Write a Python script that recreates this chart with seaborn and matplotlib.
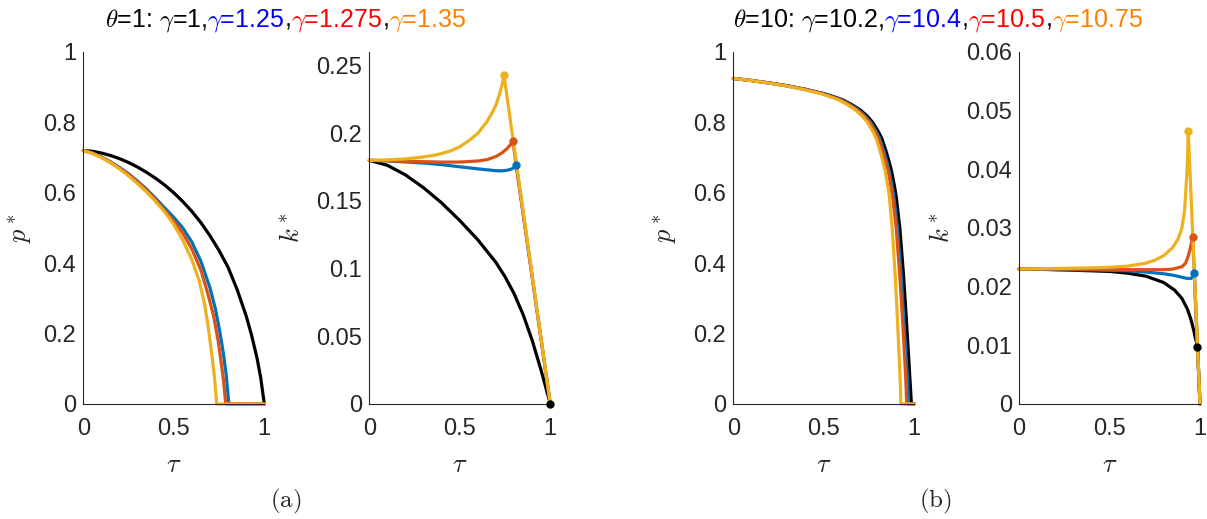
import matplotlib
matplotlib.use('Agg')
import matplotlib.pyplot as plt
import seaborn as sns
from matplotlib.ticker import FuncFormatter

# ---------------- data ----------------
# (a) theta = 1 : p*
tau_a_p_g1 = [0, 0.05, 0.1, 0.15, 0.2, 0.25, 0.3, 0.35, 0.4, 0.45, 0.5, 0.55, 0.6, 0.65, 0.7, 0.75,
              0.8, 0.85, 0.9, 0.93, 0.96, 0.98, 1.0]
p_a_g1 = [0.720, 0.718, 0.713, 0.706, 0.697, 0.686, 0.673, 0.658, 0.641, 0.622, 0.600, 0.575, 0.547,
          0.515, 0.478, 0.436, 0.388, 0.325, 0.250, 0.195, 0.130, 0.075, 0.0]
tau_a_p_g2 = [0, 0.05, 0.1, 0.15, 0.2, 0.25, 0.3, 0.35, 0.4, 0.45, 0.5, 0.55, 0.6, 0.65, 0.7, 0.73,
              0.756, 0.775, 0.79, 0.804, 1.0]
p_a_g2 = [0.720, 0.713, 0.702, 0.688, 0.672, 0.654, 0.633, 0.610, 0.584, 0.557, 0.530, 0.500, 0.460,
          0.405, 0.330, 0.270, 0.200, 0.140, 0.080, 0.0, 0.0]
tau_a_p_g3 = [0, 0.05, 0.1, 0.15, 0.2, 0.25, 0.3, 0.35, 0.4, 0.45, 0.5, 0.55, 0.6, 0.65, 0.69, 0.72,
              0.745, 0.76, 0.775, 0.787, 1.0]
p_a_g3 = [0.720, 0.713, 0.701, 0.687, 0.670, 0.652, 0.631, 0.607, 0.580, 0.550, 0.520, 0.485, 0.440,
          0.380, 0.310, 0.250, 0.180, 0.125, 0.065, 0.0, 0.0]
tau_a_p_g4 = [0, 0.05, 0.1, 0.15, 0.2, 0.25, 0.3, 0.35, 0.4, 0.45, 0.5, 0.55, 0.6, 0.64, 0.67, 0.69,
              0.71, 0.725, 0.737, 1.0]
p_a_g4 = [0.720, 0.712, 0.700, 0.685, 0.668, 0.648, 0.626, 0.602, 0.575, 0.545, 0.510, 0.465, 0.410,
          0.350, 0.285, 0.220, 0.140, 0.075, 0.0, 0.0]

# (a) theta = 1 : k*
tau_a_k_g1 = [0, 0.1, 0.2, 0.3, 0.4, 0.5, 0.6, 0.7, 0.75, 0.8, 0.85, 0.9, 0.95, 1.0]
k_a_g1 = [0.180, 0.1763, 0.1692, 0.1597, 0.1485, 0.1355, 0.1212, 0.1045, 0.094, 0.0815, 0.066, 0.047,
          0.0245, 0.0]
tau_a_k_g2 = [0, 0.1, 0.2, 0.3, 0.4, 0.5, 0.6, 0.65, 0.7, 0.73, 0.76, 0.785, 0.8, 0.812, 1.0]
k_a_g2 = [0.180, 0.1795, 0.1788, 0.178, 0.1768, 0.1752, 0.1737, 0.173, 0.1723, 0.1722, 0.1726, 0.1735,
          0.1745, 0.1762, 0.0]
tau_a_k_g3 = [0, 0.1, 0.2, 0.3, 0.4, 0.5, 0.6, 0.65, 0.7, 0.73, 0.76, 0.78, 0.793, 1.0]
k_a_g3 = [0.180, 0.1797, 0.1793, 0.179, 0.1787, 0.1787, 0.1795, 0.1805, 0.1828, 0.1852, 0.1885,
          0.1915, 0.194, 0.0]
tau_a_k_g4 = [0, 0.1, 0.2, 0.3, 0.356, 0.4, 0.45, 0.5, 0.55, 0.6, 0.65, 0.68, 0.7, 0.72, 0.735, 0.744, 1.0]
k_a_g4 = [0.180, 0.1803, 0.181, 0.1825, 0.1837, 0.185, 0.187, 0.190, 0.1945, 0.200, 0.2085, 0.2155,
          0.221, 0.229, 0.2365, 0.243, 0.0]
tau_a_end = [1.0, 0.812, 0.793, 0.744]
k_a_end = [0.0, 0.1762, 0.194, 0.243]

# (b) theta = 10 : p*
p_b = [0.925, 0.919, 0.912, 0.904, 0.894, 0.882, 0.874, 0.865, 0.852, 0.836, 0.818, 0.80, 0.775,
       0.755, 0.72, 0.69, 0.66, 0.62, 0.59, 0.50, 0.37, 0.25, 0.14, 0.07, 0.0, 0.0]
tau_b_p_g1 = [0, 0.1, 0.2, 0.3, 0.4, 0.5, 0.55, 0.6, 0.65, 0.7, 0.74, 0.77, 0.8, 0.82, 0.843, 0.86,
              0.875, 0.89, 0.9, 0.92, 0.94, 0.955, 0.968, 0.976, 0.984, 1.0]
tau_b_p_g2 = [0, 0.099, 0.197, 0.296, 0.394, 0.493, 0.542, 0.592, 0.641, 0.69, 0.729, 0.759, 0.789,
              0.808, 0.831, 0.848, 0.862, 0.877, 0.887, 0.907, 0.927, 0.941, 0.954, 0.962, 0.968, 1.0]
tau_b_p_g3 = [0, 0.098, 0.196, 0.293, 0.391, 0.489, 0.538, 0.587, 0.636, 0.685, 0.724, 0.753, 0.782,
              0.802, 0.824, 0.841, 0.856, 0.87, 0.88, 0.9, 0.919, 0.934, 0.946, 0.953, 0.958, 1.0]
tau_b_p_g4 = [0, 0.096, 0.192, 0.289, 0.385, 0.481, 0.529, 0.577, 0.625, 0.673, 0.712, 0.741, 0.77,
              0.789, 0.81, 0.826, 0.84, 0.853, 0.862, 0.878, 0.894, 0.906, 0.916, 0.922, 0.926, 1.0]

# (b) theta = 10 : k*
tau_b_k_g1 = [0, 0.1, 0.2, 0.3, 0.4, 0.5, 0.6, 0.7, 0.8, 0.86, 0.9, 0.93, 0.95, 0.965, 0.975, 0.982,
              0.986, 1.0]
k_b_g1 = [0.0230, 0.0230, 0.0229, 0.0228, 0.0227, 0.0226, 0.0223, 0.0218, 0.0207, 0.0194, 0.0180,
          0.0162, 0.0144, 0.0126, 0.0112, 0.0104, 0.0098, 0.0]
tau_b_k_g2 = [0, 0.2, 0.4, 0.6, 0.7, 0.8, 0.86, 0.9, 0.93, 0.95, 0.96, 0.968, 1.0]
k_b_g2 = [0.0230, 0.0229, 0.02285, 0.0227, 0.0225, 0.0222, 0.0219, 0.0216, 0.0214, 0.0214, 0.0217,
          0.0223, 0.0]
tau_b_k_g3 = [0, 0.2, 0.4, 0.6, 0.7, 0.8, 0.85, 0.9, 0.92, 0.935, 0.948, 0.96, 1.0]
k_b_g3 = [0.0230, 0.0230, 0.02295, 0.0229, 0.0229, 0.0229, 0.0230, 0.0234, 0.0240, 0.0252, 0.0268,
          0.0284, 0.0]
tau_b_k_g4 = [0, 0.2, 0.4, 0.5, 0.6, 0.7, 0.75, 0.8, 0.85, 0.88, 0.9, 0.915, 0.925, 0.931, 0.935, 1.0]
k_b_g4 = [0.0230, 0.0231, 0.0232, 0.0233, 0.0235, 0.0240, 0.0245, 0.0253, 0.0267, 0.0282, 0.0300,
          0.0330, 0.0380, 0.0416, 0.0466, 0.0]
tau_b_end = [0.986, 0.968, 0.96, 0.935]
k_b_end = [0.0098, 0.0223, 0.0284, 0.0466]

x_ticks = [0, 0.5, 1]
p_ticks = [0, 0.2, 0.4, 0.6, 0.8, 1]
k_a_ticks = [0, 0.05, 0.1, 0.15, 0.2, 0.25]
k_b_ticks = [0, 0.01, 0.02, 0.03, 0.04, 0.05, 0.06]

title_a = [(r'$\theta$=1: $\gamma$=1,', 'black'), (r'$\gamma$=1.25', 'blue'), (',', 'black'),
           (r'$\gamma$=1.275', 'red'), (',', 'black'), (r'$\gamma$=1.35', '#ff8000')]
title_b = [(r'$\theta$=10: $\gamma$=10.2,', 'black'), (r'$\gamma$=10.4', 'blue'), (',', 'black'),
           (r'$\gamma$=10.5', 'red'), (',', 'black'), (r'$\gamma$=10.75', '#ff8000')]

# matlab default line colours
cols = ['black', '#0072BD', '#D95319', '#EDB120']

# ---------------- style ----------------
sns.set_theme(style='white')
plt.rcParams['font.family'] = ['Liberation Sans', 'DejaVu Sans']
plt.rcParams['mathtext.fontset'] = 'cm'
plt.rcParams['axes.edgecolor'] = '#262626'
plt.rcParams['axes.linewidth'] = 0.8

fig = plt.figure(figsize=(12.07, 5.19), dpi=100)
W, H = 1207, 519
lefts = [83.3, 369.3, 733.3, 1019]
axes = [fig.add_axes([l / W, (H - 404) / H, 181 / W, 352 / H]) for l in lefts]

fmt = FuncFormatter(lambda v, _: f'{v:g}')
LW = 2.3


def curve(ax, t, v, c):
    sns.lineplot(x=t, y=v, ax=ax, color=c, lw=LW, estimator=None, sort=False, clip_on=False)


series = [
    (axes[0], [(tau_a_p_g1, p_a_g1), (tau_a_p_g2, p_a_g2), (tau_a_p_g3, p_a_g3), (tau_a_p_g4, p_a_g4)]),
    (axes[1], [(tau_a_k_g1, k_a_g1), (tau_a_k_g2, k_a_g2), (tau_a_k_g3, k_a_g3), (tau_a_k_g4, k_a_g4)]),
    (axes[2], [(tau_b_p_g1, p_b), (tau_b_p_g2, p_b), (tau_b_p_g3, p_b), (tau_b_p_g4, p_b)]),
    (axes[3], [(tau_b_k_g1, k_b_g1), (tau_b_k_g2, k_b_g2), (tau_b_k_g3, k_b_g3), (tau_b_k_g4, k_b_g4)]),
]
for ax, lines in series:
    for (t, v), c in zip(lines, cols):
        curve(ax, t, v, c)

for ax, te, ke in [(axes[1], tau_a_end, k_a_end), (axes[3], tau_b_end, k_b_end)]:
    for t, k, c in zip(te, ke, cols):
        ax.plot(t, k, 'o', color=c, ms=5, clip_on=False, zorder=5)

ylims = [(0, 1), (0, 0.26), (0, 1), (0, 0.06)]
yticks = [p_ticks, k_a_ticks, p_ticks, k_b_ticks]
ylabs = [r'$p^*$', r'$k^*$', r'$p^*$', r'$k^*$']
ylab_x = [-0.27, -0.36, -0.30, -0.36]
for ax, yl, yt, lab, lx in zip(axes, ylims, yticks, ylabs, ylab_x):
    ax.set_xlim(0, 1)
    ax.set_ylim(*yl)
    ax.set_xticks(x_ticks)
    ax.set_yticks(yt)
    ax.xaxis.set_major_formatter(fmt)
    ax.yaxis.set_major_formatter(fmt)
    ax.tick_params(direction='in', length=4, width=0.8, labelsize=17, colors='#262626')
    ax.tick_params(axis='x', pad=10)
    ax.tick_params(axis='y', pad=5)
    sns.despine(ax=ax)
    ax.set_xlabel(r'$\tau$', fontsize=19)
    ax.xaxis.set_label_coords(0.5, -0.14)
    ax.set_ylabel(lab, fontsize=19)
    ax.yaxis.set_label_coords(lx, 0.5)

# multi-coloured titles
renderer = fig.canvas.get_renderer()
for parts, x0 in [(title_a, 105), (title_b, 733)]:
    x = x0 / W
    for s, c in parts:
        t = fig.text(x, 1 - 27 / H, s, color=c, fontsize=18, ha='left', va='baseline')
        x += t.get_window_extent(renderer).width / fig.bbox.width

fig.text(286 / W, 1 - 501 / H, r'$\mathrm{(a)}$', ha='center', va='center', fontsize=18)
fig.text(935 / W, 1 - 501 / H, r'$\mathrm{(b)}$', ha='center', va='center', fontsize=18)

fig.savefig('out.png', dpi=100, facecolor='white')
